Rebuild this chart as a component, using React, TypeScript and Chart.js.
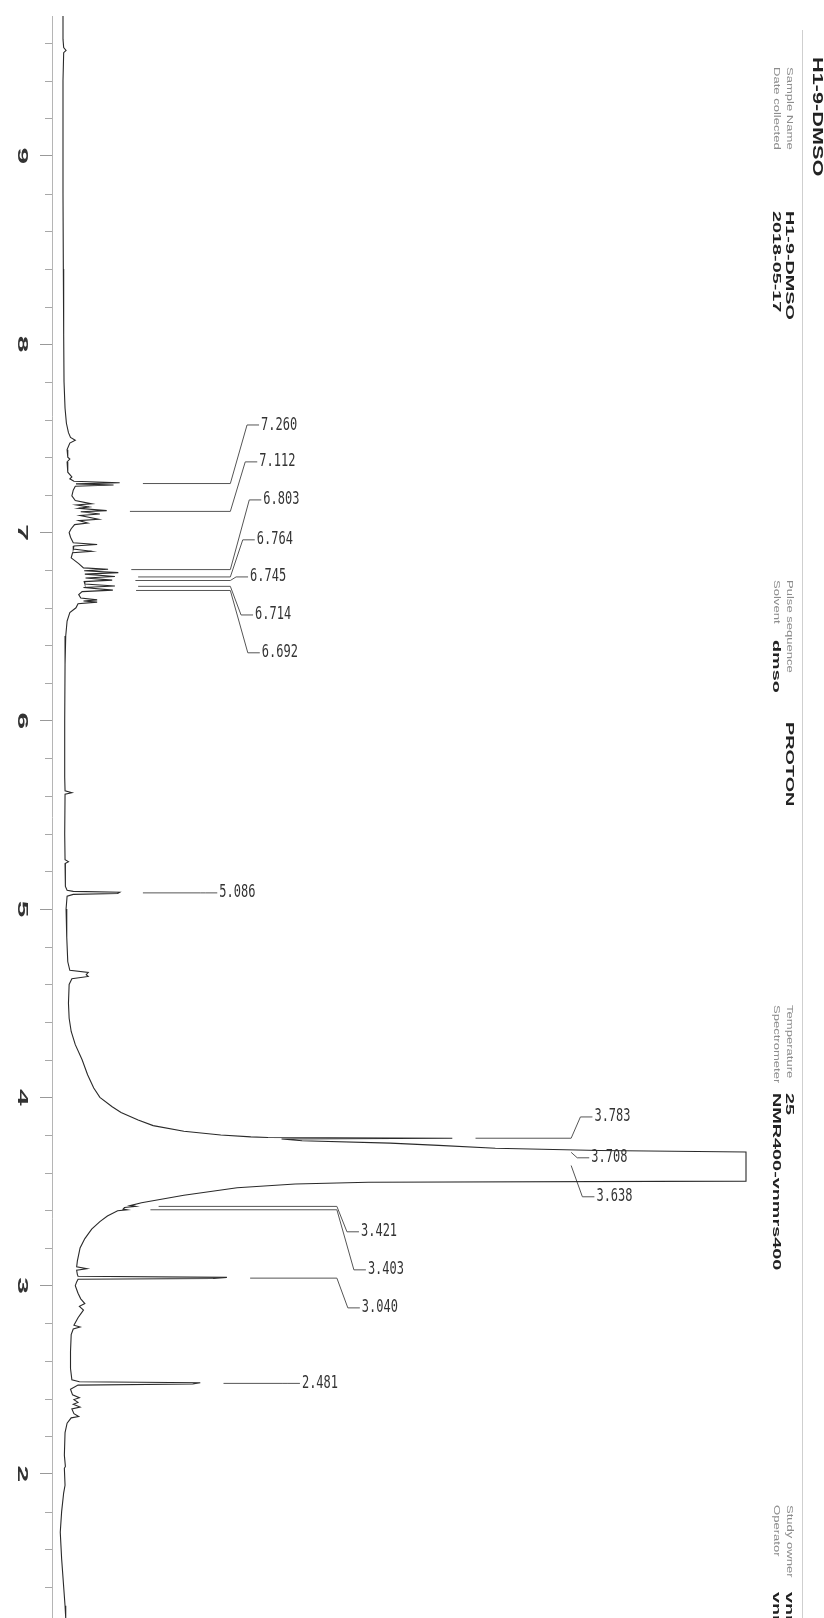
import { useEffect, useRef } from "react";
import { Chart, registerables } from "chart.js";

Chart.register(...registerables);

// ---- spectrum trace (ppm, intensity; intensity 100 = plot clip level) ----
const tracePpm = [
  9.743, 9.62, 9.575, 9.56, 9.548, 9.4, 9.1, 8.8, 8.4, 8.05, 7.8, 7.66, 7.58, 7.53, 7.505, 7.49, 7.475, 7.44,
  7.4, 7.39, 7.375, 7.32, 7.295, 7.285, 7.272, 7.264, 7.258, 7.252, 7.246, 7.225, 7.195, 7.17, 7.152, 7.146,
  7.136, 7.128, 7.116, 7.11, 7.098, 7.09, 7.07, 7.063, 7.05, 7.042, 7.02, 7.0, 6.975, 6.945, 6.936, 6.928,
  6.912, 6.9, 6.892, 6.865, 6.835, 6.812, 6.805, 6.797, 6.787, 6.779, 6.766, 6.758, 6.747, 6.739, 6.726,
  6.716, 6.708, 6.694, 6.686, 6.67, 6.652, 6.642, 6.636, 6.63, 6.622, 6.6, 6.575, 6.53, 6.45, 6.3, 6.0, 5.7,
  5.628, 5.618, 5.61, 5.4, 5.262, 5.252, 5.242, 5.12, 5.1, 5.094, 5.089, 5.083, 5.078, 5.068, 5.0, 4.85,
  4.72, 4.675, 4.664, 4.652, 4.642, 4.63, 4.6, 4.5, 4.42, 4.35, 4.28, 4.2, 4.12, 4.05, 4.0, 3.95, 3.92, 3.88,
  3.85, 3.82, 3.8, 3.79, 3.787, 3.783, 3.779, 3.77, 3.757, 3.745, 3.73, 3.718, 3.71, 3.555, 3.549, 3.54, 3.52,
  3.48, 3.44, 3.425, 3.421, 3.415, 3.407, 3.403, 3.398, 3.37, 3.34, 3.3, 3.25, 3.2, 3.13, 3.1, 3.09, 3.082,
  3.06, 3.05, 3.044, 3.038, 3.034, 3.02, 3.0, 2.96, 2.93, 2.905, 2.89, 2.87, 2.85, 2.83, 2.79, 2.78, 2.77,
  2.74, 2.65, 2.56, 2.5, 2.49, 2.484, 2.478, 2.472, 2.45, 2.42, 2.405, 2.395, 2.38, 2.37, 2.355, 2.345, 2.32,
  2.305, 2.298, 2.27, 2.22, 2.1, 2.04, 2.03, 1.94, 1.9, 1.8, 1.69, 1.55, 1.4, 1.3, 1.235,
];
const traceIntensity = [
  0.0, 0.0, 0.1, 0.45, 0.1, 0.0, 0.0, 0.0, 0.05, 0.1, 0.15, 0.3, 0.5, 0.8, 1.1, 1.8, 1.0, 0.6,
  0.7, 1.0, 0.6, 0.7, 1.3, 1.0, 1.6, 8.3, 1.9, 7.4, 1.8, 1.5, 1.3, 1.8, 4.2, 2.0,
  3.8, 2.3, 6.4, 2.6, 5.4, 2.5, 5.2, 2.3, 3.6, 1.7, 1.2, 0.9, 1.1, 1.5, 5.0, 1.6,
  1.5, 4.2, 1.4, 1.2, 2.3, 3.0, 6.6, 3.1, 8.1, 3.2, 7.6, 3.3, 7.2, 3.1, 3.2,
  7.6, 3.0, 7.3, 2.8, 2.3, 2.6, 5.0, 3.0, 5.0, 2.2, 1.9, 1.0, 0.6, 0.4, 0.3, 0.25, 0.25,
  0.3, 1.3, 0.3, 0.25, 0.3, 0.8, 0.3, 0.35, 0.6, 1.5, 8.3, 8.0, 1.5, 0.6, 0.45, 0.55,
  0.7, 1.0, 3.7, 3.4, 3.7, 1.3, 0.9, 0.8, 0.9, 1.2, 1.8, 2.8, 3.6, 4.5, 5.4, 7.2, 8.5, 11.0,
  13.2, 17.7, 23.1, 27.5, 30.0, 57.0, 32.0, 35.0, 47.9, 55.0, 63.3, 78.6, 100, 100, 44.7, 34.0, 25.5,
  17.7, 11.5, 9.8, 10.6, 9.0, 8.8, 9.4, 8.0, 6.5, 5.4, 4.2, 3.2, 2.5, 2.1, 2.0, 3.5, 2.0,
  2.1, 2.2, 24.0, 22.0, 2.2, 2.0, 1.8, 2.2, 2.6, 3.2, 2.4, 3.0, 2.6, 2.2, 1.6, 2.5, 1.5,
  1.2, 1.1, 1.1, 1.3, 2.4, 20.1, 19.0, 2.2, 1.1, 1.4, 2.4, 1.6, 2.2, 1.5, 2.5, 1.3, 1.6,
  2.3, 1.2, 0.6, 0.3, 0.2, 0.35, 0.2, 0.3, 0.1, -0.2, -0.4, -0.2, 0.1, 0.3, 0.4,
];

// ---- peak picking ----
const peakPpm = [7.26, 7.112, 6.803, 6.764, 6.745, 6.714, 6.692, 5.086, 3.783, 3.708, 3.638, 3.421, 3.403, 3.04, 2.481];
const peakLabels = ["7.260", "7.112", "6.803", "6.764", "6.745", "6.714", "6.692", "5.086", "3.783", "3.708", "3.638", "3.421", "3.403", "3.040", "2.481"];
const peakLabelPpm = [7.571, 7.375, 7.173, 6.961, 6.764, 6.562, 6.361, 5.086, 3.896, 3.679, 3.472, 3.286, 3.084, 2.882, 2.481];
const peakLeaderLevel = [24.5, 24.5, 24.5, 24.5, 24.5, 24.5, 24.5, 20.1, 74.4, 74.4, 74.4, 40.1, 40.1, 40.1, 32.2];

// ---- axis ----
const majorTicks = [9, 8, 7, 6, 5, 4, 3, 2];

// ---- header ----
const sampleTitle = "H1-9-DMSO";
const infoLabels = ["Sample Name", "Date collected", "Pulse sequence", "Solvent", "Temperature", "Spectrometer", "Study owner", "Operator"];
const infoValues = ["H1-9-DMSO", "2018-05-17", "PROTON", "dmso", "25", "NMR400-vnmrs400", "vnmr1", "vnmr1"];

const W = 824;
const H = 1618;
const TOP_PAD = 16;
const AXIS_W = 52;
const PPM_MAX = 9.743;
const PPM_MIN = 1.235;
const INT_MIN = -1.61;
const INT_MAX = 111.42;
const pxPerPpm = (H - TOP_PAD) / (PPM_MAX - PPM_MIN);
const pxPerUnit = (W - AXIS_W) / (INT_MAX - INT_MIN);
const LEADER_GAP = 3.4;

function interp(ppm: number) {
  for (let i = 0; i < tracePpm.length - 1; i++) {
    const a = tracePpm[i];
    const b = tracePpm[i + 1];
    if (ppm <= a && ppm >= b) {
      const t = (a - ppm) / (a - b);
      return traceIntensity[i] + t * (traceIntensity[i + 1] - traceIntensity[i]);
    }
  }
  return 0;
}

function peakTop(ppm: number) {
  let m = interp(ppm);
  for (let i = 0; i < tracePpm.length; i++) {
    if (Math.abs(tracePpm[i] - ppm) <= 0.008) m = Math.max(m, traceIntensity[i]);
  }
  return m;
}

function leaderPoints(i: number) {
  const p = peakPpm[i];
  const lp = peakLabelPpm[i];
  const level = peakLeaderLevel[i];
  const pts: { x: number; y: number }[] = [];
  const start = peakTop(p) + LEADER_GAP;
  if (start < level) pts.push({ x: start, y: p });
  pts.push({ x: level, y: p });
  const dyPx = Math.abs(lp - p) * pxPerPpm;
  const dx = (5 + 0.2 * dyPx) / pxPerUnit;
  pts.push({ x: level + dx, y: lp });
  pts.push({ x: level + dx + 12 / pxPerUnit, y: lp });
  return pts;
}

function rotText(
  ctx: CanvasRenderingContext2D,
  text: string,
  x: number,
  y: number,
  font: string,
  color: string,
  stretch: number,
  align: CanvasTextAlign = "left"
) {
  ctx.save();
  ctx.translate(x, y);
  ctx.rotate(Math.PI / 2);
  ctx.scale(stretch, 1);
  ctx.font = font;
  ctx.fillStyle = color;
  ctx.textAlign = align;
  ctx.textBaseline = "middle";
  ctx.fillText(text, 0, 0);
  ctx.restore();
}

const decorPlugin = {
  id: "nmrDecor",
  afterDraw(chart: any) {
    const ctx: CanvasRenderingContext2D = chart.ctx;
    const xs = chart.scales.x;
    const ys = chart.scales.y;
    const axisX = chart.chartArea.left;

    // minor ticks every 0.2 ppm
    ctx.save();
    ctx.strokeStyle = "#a8a8a8";
    ctx.lineWidth = 1;
    for (const t of ys.ticks) {
      const v = t.value;
      const k = v * 5;
      if (Math.abs(k - Math.round(k)) > 1e-6) continue;
      if (Math.abs(v - Math.round(v)) < 1e-6) continue;
      const py = Math.round(ys.getPixelForValue(v)) + 0.5;
      ctx.beginPath();
      ctx.moveTo(axisX - 7, py);
      ctx.lineTo(axisX, py);
      ctx.stroke();
    }
    ctx.restore();

    // major tick labels (rotated like the printed page)
    for (const v of majorTicks) {
      const py = ys.getPixelForValue(v);
      rotText(ctx, String(v), 22, py, "bold 15px 'Liberation Sans'", "#333", 2.0, "center");
    }

    // peak labels
    ctx.save();
    ctx.fillStyle = "#333";
    ctx.font = "12px 'DejaVu Sans Mono'";
    ctx.textBaseline = "middle";
    for (let i = 0; i < peakPpm.length; i++) {
      const pts = leaderPoints(i);
      const last = pts[pts.length - 1];
      const px = xs.getPixelForValue(last.x) + 2;
      const py = ys.getPixelForValue(last.y);
      ctx.save();
      ctx.translate(px, py);
      ctx.scale(1, 1.45);
      ctx.fillText(peakLabels[i], 0, 0);
      ctx.restore();
    }
    ctx.restore();

    // header block
    ctx.save();
    ctx.strokeStyle = "#cfcfcf";
    ctx.lineWidth = 1;
    ctx.beginPath();
    ctx.moveTo(802.5, 30);
    ctx.lineTo(802.5, H);
    ctx.stroke();
    ctx.restore();

    rotText(ctx, sampleTitle, 817, 57, "bold 14px 'Liberation Sans'", "#222", 1.55);

    const rowX = [789, 776];
    const groups = [
      { rows: [0, 1], labelY: 67, valueY: [211, 211] },
      { rows: [2, 3], labelY: 580, valueY: [722, 640] },
      { rows: [4, 5], labelY: 1005, valueY: [1093, 1093] },
      { rows: [6, 7], labelY: 1505, valueY: [1592, 1592] },
    ];
    for (const g of groups) {
      g.rows.forEach((r, j) => {
        rotText(ctx, infoLabels[r], rowX[j], g.labelY, "9px 'Liberation Sans'", "#8c8c8c", 1.45);
        rotText(ctx, infoValues[r], rowX[j], g.valueY[j], "bold 11px 'Liberation Sans'", "#222", 1.8);
      });
    }
  },
};

export default function App() {
  const ref = useRef<HTMLCanvasElement | null>(null);

  useEffect(() => {
    if (!ref.current) return;
    const traceData = tracePpm.map((p, i) => ({ x: traceIntensity[i], y: p }));
    const leaderSets = peakPpm.map((_, i) => ({
      label: "leader " + peakLabels[i],
      data: leaderPoints(i),
      showLine: true,
      borderColor: "#555",
      borderWidth: 1,
      pointRadius: 0,
      fill: false,
    }));
    const chart = new Chart(ref.current, {
      type: "scatter",
      data: {
        datasets: [
          {
            label: "spectrum",
            data: traceData,
            showLine: true,
            borderColor: "#2a2a2a",
            borderWidth: 1.1,
            pointRadius: 0,
            fill: false,
          },
          ...leaderSets,
        ],
      },
      options: {
        animation: false,
        responsive: false,
        devicePixelRatio: 1,
        layout: { padding: { top: TOP_PAD, left: 0, right: 0, bottom: 0 } },
        plugins: { legend: { display: false }, tooltip: { enabled: false } },
        events: [],
        scales: {
          x: { type: "linear", display: false, min: INT_MIN, max: INT_MAX },
          y: {
            type: "linear",
            position: "left",
            min: PPM_MIN,
            max: PPM_MAX,
            afterFit: (s: any) => {
              s.width = AXIS_W;
            },
            ticks: { display: false, stepSize: 0.2, autoSkip: false },
            border: { display: true, color: "#b5b5b5", width: 1 },
            grid: {
              display: true,
              drawOnChartArea: false,
              drawTicks: true,
              tickLength: 12,
              tickWidth: 1,
              tickColor: (c: any) => {
                const v = c.tick ? c.tick.value : 0.5;
                return Math.abs(v - Math.round(v)) < 1e-6 ? "#999" : "rgba(0,0,0,0)";
              },
            },
          },
        },
      },
      plugins: [decorPlugin],
    });
    return () => chart.destroy();
  }, []);

  return (
    <div style={{ position: "absolute", left: 0, top: 0, width: W, height: H, background: "#fff" }}>
      <canvas ref={ref} width={W} height={H} style={{ display: "block", width: W, height: H }} />
    </div>
  );
}
